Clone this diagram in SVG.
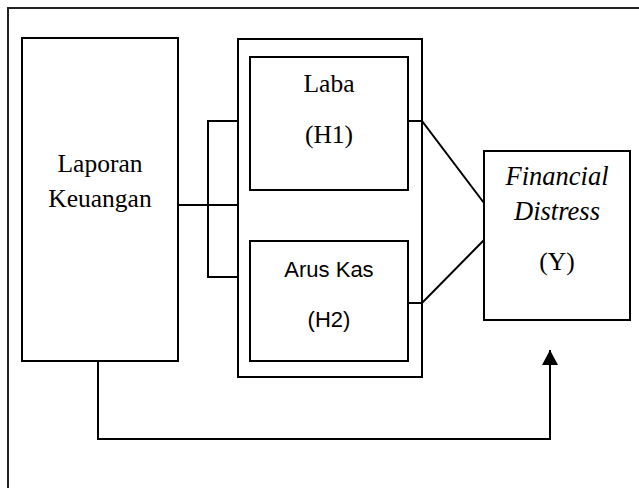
<svg xmlns="http://www.w3.org/2000/svg" width="639" height="488" viewBox="0 0 639 488">
<style>
.box{fill:#fff;stroke:#000;stroke-width:2}
.ln{fill:none;stroke:#000;stroke-width:2}
.serif{font-family:"Liberation Serif","Times New Roman",serif;font-size:25.5px;fill:#000;text-anchor:middle}
.sans{font-family:"Liberation Sans",Arial,sans-serif;font-size:22px;fill:#000;text-anchor:middle}
.it{font-style:italic;font-size:26.5px}
</style>
<defs>
<marker id="arr" markerWidth="16" markerHeight="15" refX="8" refY="0" viewBox="0 0 16 15" orient="0" markerUnits="userSpaceOnUse">
<path d="M0,15 L8,0 L16,15 Z" fill="#000"/>
</marker>
</defs>
<rect id="frame" x="8" y="8" width="700" height="600" fill="#fff" stroke="#222" stroke-width="2"/>
<g id="laporan">
<rect class="box" x="22" y="38" width="156" height="323"/>
<text class="serif" x="100" y="172">Laporan</text>
<text class="serif" x="100" y="207">Keuangan</text>
</g>
<g id="group">
<rect class="box" x="238" y="39" width="184" height="338"/>
</g>
<g id="laba">
<rect class="box" x="250" y="57" width="158" height="133"/>
<text class="serif" x="329" y="92">Laba</text>
<text class="serif" x="329" y="143">(H1)</text>
</g>
<g id="aruskas">
<rect class="box" x="250" y="241" width="158" height="120"/>
<text class="sans" x="329" y="277">Arus Kas</text>
<text class="sans" x="329" y="327">(H2)</text>
</g>
<g id="financial">
<rect class="box" x="484" y="151" width="146" height="169"/>
<text class="serif it" x="557" y="185">Financial</text>
<text class="serif it" x="557" y="220">Distress</text>
<text class="serif" x="557" y="270">(Y)</text>
</g>
<g id="connectors">
<path class="ln" d="M178,205 H238"/>
<path class="ln" d="M238,121 H208 V277 H237"/>
<path class="ln" d="M408,121 H422 L484,203"/>
<path class="ln" d="M408,303 H422 L484,240"/>
<path class="ln" d="M98,361 V439 H550 V350" marker-end="url(#arr)"/>
</g>
</svg>
